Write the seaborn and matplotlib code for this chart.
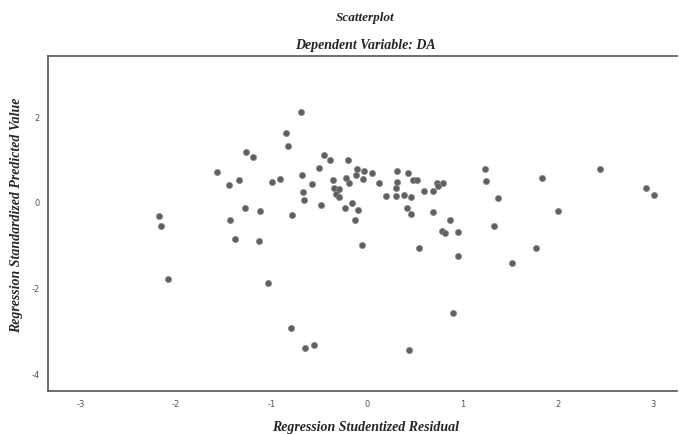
import seaborn as sns
import matplotlib.pyplot as plt
import pandas as pd

# ---- Values ----
residual = [
    -1.27, -1.19, -1.57, -1.34, -1.44, -1.28, -1.12, -2.18, -2.16, -1.43,
    -1.38, -1.13, -2.08, -1.04, -0.69, -0.85, -0.83, -0.45, -0.39, -0.20,
    -0.50, -0.68, -0.99, -0.91, -0.57, -0.35, -0.22, -0.19, -0.10, -0.03,
    -0.11, 0.05, -0.04, 0.13, -0.34, -0.29, -0.32, -0.29, -0.67, -0.66,
    -0.48, -0.16, -0.23, -0.09, -0.12, -0.78, 0.32, 0.43, 0.32, 0.48,
    0.53, 0.30, 0.20, 0.30, 0.39, 0.46, 0.60, 0.69, 0.74, 0.80,
    0.75, 0.42, 0.46, 0.69, 0.87, 0.79, 0.82, 0.95, -0.05, 0.55,
    0.95, 1.24, 1.25, 1.37, 1.33, 1.84, 2.00, 1.77, 1.52, 2.44,
    2.93, 3.01, -0.80, -0.65, -0.55, 0.44, 0.90,
]
predicted = [
    1.16, 1.05, 0.69, 0.52, 0.40, -0.14, -0.21, -0.33, -0.57, -0.42,
    -0.87, -0.91, -1.79, -1.88, 2.10, 1.61, 1.30, 1.10, 0.98, 0.98,
    0.79, 0.63, 0.47, 0.53, 0.42, 0.51, 0.57, 0.44, 0.77, 0.72,
    0.64, 0.68, 0.54, 0.45, 0.33, 0.30, 0.18, 0.12, 0.24, 0.05,
    -0.07, -0.03, -0.14, -0.19, -0.42, -0.30, 0.71, 0.68, 0.47, 0.51,
    0.51, 0.32, 0.14, 0.15, 0.16, 0.12, 0.25, 0.26, 0.44, 0.44,
    0.37, -0.14, -0.27, -0.23, -0.43, -0.67, -0.73, -0.71, -1.01, -1.06,
    -1.25, 0.77, 0.48, 0.10, -0.56, 0.55, -0.21, -1.07, -1.42, 0.77,
    0.32, 0.16, -2.93, -3.39, -3.32, -3.44, -2.59,
]
x_ticks = [-3, -2, -1, 0, 1, 2, 3]
y_ticks = [-4, -2, 0, 2]

df = pd.DataFrame({"Residual": residual, "Predicted": predicted})

# ---- Visualization ----
sns.set_style("white")
plt.rcParams["axes.unicode_minus"] = False
serif = ["Liberation Serif", "DejaVu Serif"]

fig = plt.figure(figsize=(6.79, 4.35), dpi=100)
ax = fig.add_axes([0.071, 0.099, 0.926, 0.770])

sns.scatterplot(data=df, x="Residual", y="Predicted", ax=ax,
                marker="o", s=20, color="#606060", edgecolor="#8a8a8a",
                linewidth=0.5)

ax.set_xlim(-3.34, 3.25)
ax.set_ylim(-4.40, 3.40)
ax.set_xticks(x_ticks)
ax.set_yticks(y_ticks)
ax.tick_params(length=0, labelsize=6, labelcolor="#555555", pad=6)
ax.set_xlabel("")
ax.set_ylabel("")

for side in ["top", "left", "bottom"]:
    ax.spines[side].set_color("#555555")
    ax.spines[side].set_linewidth(1.2)
ax.spines["right"].set_visible(False)

fig.text(0.538, 0.958, "Scatterplot", ha="center", va="center",
         family=serif, style="italic", weight="bold", fontsize=9.5)
fig.text(0.538, 0.895, "Dependent Variable: DA", ha="center", va="center",
         family=serif, style="italic", weight="bold", fontsize=10)
fig.text(0.538, 0.018, "Regression Studentized Residual", ha="center",
         va="center", family=serif, style="italic", weight="bold", fontsize=10)
fig.text(0.025, 0.505, "Regression Standardized Predicted Value", ha="center",
         va="center", rotation=90, family=serif, style="italic",
         weight="bold", fontsize=10)

# ---- Save output ----
fig.savefig("out.png", dpi=100)
plt.close(fig)
